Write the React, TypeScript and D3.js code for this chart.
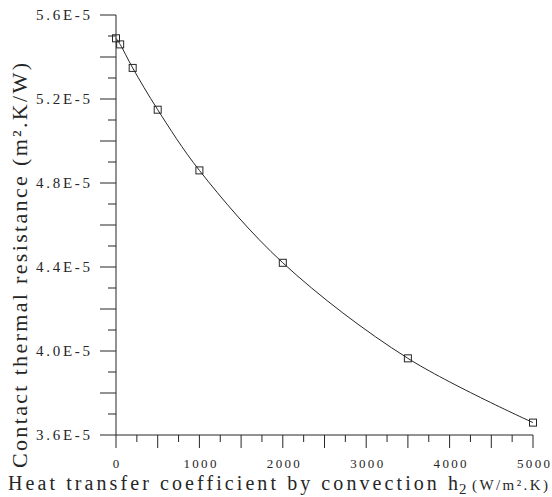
import React from "react";
import * as d3 from "d3";

const hValues = [0, 50, 200, 500, 1000, 2000, 3500, 5000];
const resistance = [5.489e-5, 5.46e-5, 5.348e-5, 5.149e-5, 4.86e-5, 4.42e-5, 3.965e-5, 3.659e-5];
const xTickLabels = [0, 1000, 2000, 3000, 4000, 5000];
const yTickLabels = ["3.6E-5", "4.0E-5", "4.4E-5", "4.8E-5", "5.2E-5", "5.6E-5"];
const yTickValues = [3.6e-5, 4.0e-5, 4.4e-5, 4.8e-5, 5.2e-5, 5.6e-5];

const W = 552, H = 497;
const x0 = 116, x1 = 533, yTop = 15, yBot = 435;
const serif = "'Liberation Serif', 'DejaVu Serif', serif";
const ink = "#262626";

export default function App() {
  const x = d3.scaleLinear().domain([0, 5000]).range([x0, x1]);
  const y = d3.scaleLinear().domain([3.6e-5, 5.6e-5]).range([yBot, yTop]);
  const pts = hValues.map((h, i) => [x(h), y(resistance[i])] as [number, number]);
  const line = d3.line().curve(d3.curveCatmullRom.alpha(0.5))(pts) || "";

  const xTicks = d3.range(0, 5001, 250);
  const yTicks = d3.range(0, 21).map((i) => 3.6e-5 + i * 0.1e-5);
  const ts = { fontFamily: serif };

  return (
    <svg width={W} height={H} style={{ position: "absolute", left: 0, top: 0, fontFamily: serif }}>
      <rect width={W} height={H} fill="#fff" />
      <line x1={x0} y1={yTop} x2={x0} y2={yBot} stroke={ink} strokeWidth={1} />
      <line x1={x0} y1={yBot} x2={x1} y2={yBot} stroke={ink} strokeWidth={1} />
      {xTicks.map((t, i) => (
        <line key={"xt" + i} x1={x(t)} x2={x(t)} y1={yBot} y2={yBot + (t % 500 === 0 ? 13 : 7)} stroke={ink} strokeWidth={1} />
      ))}
      {yTicks.map((t, i) => (
        <line key={"yt" + i} x1={x0 - (i % 2 === 0 ? 16 : 8)} x2={x0} y1={y(t)} y2={y(t)} stroke={ink} strokeWidth={1} />
      ))}
      {xTickLabels.map((t) => (
        <text key={"xl" + t} style={ts} x={t === 0 ? x(t) : x(t) - 16} y={468} textAnchor={t === 0 ? "middle" : "start"} fontSize={13} fill={ink}
          {...(t === 0 ? {} : { textLength: 33, lengthAdjust: "spacing" })}>{t}</text>
      ))}
      {yTickLabels.map((t, i) => (
        <text key={"yl" + t} style={ts} x={36} y={y(yTickValues[i]) + 5} fontSize={15} fill={ink} textLength={54} lengthAdjust="spacing">{t}</text>
      ))}
      <path d={line} fill="none" stroke={ink} strokeWidth={1} />
      {pts.map(([px, py], i) => (
        <rect key={"m" + i} x={px - 3.5} y={py - 3.5} width={7} height={7} fill="none" stroke={ink} strokeWidth={1} />
      ))}
      <text style={ts} x={8} y={490} fontSize={20} fill={ink} textLength={450} lengthAdjust="spacing">
        Heat transfer coefficient by convection h
      </text>
      <text style={ts} x={459} y={494} fontSize={15} fill={ink}>2</text>
      <text style={ts} x={472} y={490} fontSize={15} fill={ink} textLength={76} lengthAdjust="spacing">(W/m².K)</text>
      <text style={ts} transform="translate(27,265.5) rotate(-90)" textAnchor="middle" fontSize={22} fill={ink} textLength={405} lengthAdjust="spacing">
        Contact thermal resistance  (m².K/W)
      </text>
    </svg>
  );
}
